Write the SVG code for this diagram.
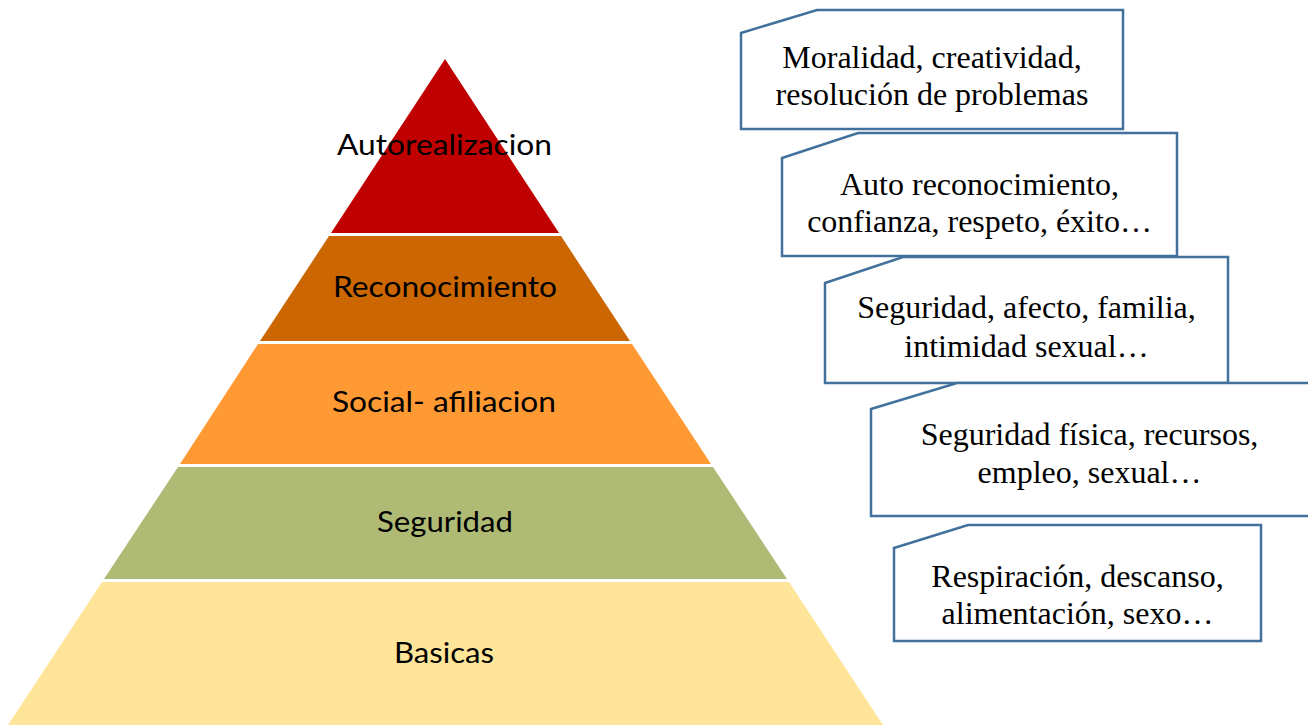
<svg xmlns="http://www.w3.org/2000/svg" width="1308" height="725" viewBox="0 0 1308 725">
<style>
.lvl{font-family:Lato,"Open Sans","Liberation Sans",sans-serif;font-size:29px;fill:#000;text-anchor:middle}
.box{fill:#fff;stroke:#41719C;stroke-width:2.5}
.bt{font-family:"Liberation Serif","Times New Roman",serif;font-size:32px;fill:#000;text-anchor:middle}
</style>
<rect width="1308" height="725" fill="#fff"/>
<g id="pyramid">
<g id="autorealizacion">
<polygon points="445,59 559,233 331,233" fill="#C00000"/>
<text class="lvl" x="444.5" y="155" textLength="215" lengthAdjust="spacingAndGlyphs">Autorealizacion</text>
</g>
<g id="reconocimiento">
<polygon points="329,236 561,236 630,341 260,341" fill="#CC6600"/>
<text class="lvl" x="445" y="297" textLength="224" lengthAdjust="spacingAndGlyphs">Reconocimiento</text>
</g>
<g id="social">
<polygon points="258,344 632,344 711,464 180,464" fill="#FF9933"/>
<text class="lvl" x="444" y="412" textLength="224" lengthAdjust="spacingAndGlyphs">Social- afiliacion</text>
</g>
<g id="seguridad">
<polygon points="178,467 713,467 787,579 104,579" fill="#AFBA75"/>
<text class="lvl" x="445" y="532" textLength="136" lengthAdjust="spacingAndGlyphs">Seguridad</text>
</g>
<g id="basicas">
<polygon points="102,582 789,582 883,725 8,725" fill="#FFE599"/>
<text class="lvl" x="444" y="663" textLength="100" lengthAdjust="spacingAndGlyphs">Basicas</text>
</g>
</g>
<g id="connectors"></g>
<g id="box1">
<path class="box" d="M741,33 L817,10 L1123,10 L1123,129 L741,129 Z"/>
<text class="bt" x="932" y="68">Moralidad, creatividad,</text>
<text class="bt" x="932" y="105">resolución de problemas</text>
</g>
<g id="box2">
<path class="box" d="M782,158 L858,133 L1177,133 L1177,256 L782,256 Z"/>
<text class="bt" x="979.5" y="195">Auto reconocimiento,</text>
<text class="bt" x="979.5" y="232">confianza, respeto, éxito…</text>
</g>
<g id="box3">
<path class="box" d="M825,283 L903,257 L1228,257 L1228,383 L825,383 Z"/>
<text class="bt" x="1026.5" y="318">Seguridad, afecto, familia,</text>
<text class="bt" x="1026.5" y="357">intimidad sexual…</text>
</g>
<g id="box4">
<path class="box" d="M871,409 L957,383 L1310,383 L1310,516 L871,516 Z"/>
<text class="bt" x="1089.5" y="445">Seguridad física, recursos,</text>
<text class="bt" x="1089.5" y="483">empleo, sexual…</text>
</g>
<g id="box5">
<path class="box" d="M894,548 L968,525 L1261,525 L1261,641 L894,641 Z"/>
<text class="bt" x="1077.5" y="587">Respiración, descanso,</text>
<text class="bt" x="1077.5" y="624">alimentación, sexo…</text>
</g>
</svg>
